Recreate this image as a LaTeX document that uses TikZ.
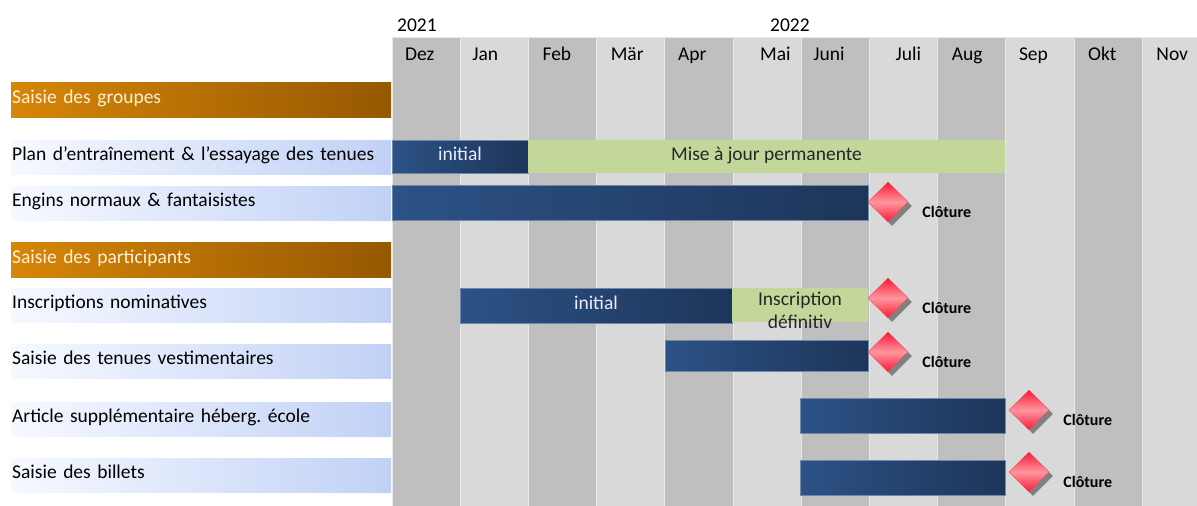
\documentclass[tikz,border=0pt]{standalone}
\usepackage{fontspec}
\setmainfont{Carlito}
\usepackage{tikz}
\usetikzlibrary{shapes.geometric, positioning, shadows}
\definecolor{monthdark}{RGB}{191,191,191}
\definecolor{monthlight}{RGB}{217,217,217}
\definecolor{monthline}{RGB}{230,230,230}
\definecolor{grouporangeL}{RGB}{214,134,8}
\definecolor{grouporangeR}{RGB}{150,88,0}
\definecolor{grouptext}{RGB}{255,240,215}
\definecolor{rowblueL}{RGB}{246,249,255}
\definecolor{rowblueR}{RGB}{193,209,246}
\definecolor{barblueL}{RGB}{44,82,134}
\definecolor{barblueR}{RGB}{29,53,89}
\definecolor{barborder}{RGB}{110,135,170}
\definecolor{updategreen}{RGB}{196,215,155}
\definecolor{closered}{RGB}{250,25,50}
\definecolor{closepink}{RGB}{255,150,160}
\definecolor{closeshadow}{RGB}{128,128,128}
\frenchspacing
\tikzset{
    groupbar/.style={rectangle, anchor=north west, minimum width=380pt, minimum height=35pt, inner xsep=1pt, inner ysep=0pt, text width=378pt, align=left, left color=grouporangeL, right color=grouporangeR, text=grouptext, font=\fontsize{19.5}{22}\selectfont, text height=13pt, text depth=6pt},
    rowbar/.style={groupbar, left color=rowblueL, right color=rowblueR, text=black, minimum height=34pt},
    taskbar/.style={rectangle, anchor=north west, inner sep=0pt, outer sep=0pt, left color=barblueL, right color=barblueR, draw=barborder, line width=0.6pt, text=white!92!blue, font=\fontsize{19.5}{22}\selectfont, text height=13pt, text depth=6pt},
    updatebar/.style={rectangle, anchor=north west, inner sep=0pt, outer sep=0pt, fill=updategreen, text=black!85, font=\fontsize{19.5}{22}\selectfont, text height=13pt, text depth=6pt},
    milestone/.style={diamond, minimum width=40pt, minimum height=40pt, inner sep=0pt, top color=closered, bottom color=closered, middle color=closepink, draw=closered!80!white, line width=0.4pt, drop shadow={shadow xshift=4pt, shadow yshift=-4pt, fill=closeshadow, opacity=1}},
}

\begin{document}
\begin{tikzpicture}[
    x=1pt, y=-1pt,
    month/.style={font=\fontsize{19.5}{22}\selectfont, inner sep=0pt, anchor=base west},
    bartext/.style={font=\fontsize{19.5}{23}\selectfont, inner sep=0pt, align=center, text=black!85},
    closelabel/.style={font=\bfseries\fontsize{16}{18}\selectfont, inner sep=0pt}
]
\useasboundingbox[fill=white] (0,0) rectangle (1197,506);

% month columns, dark and light in turn
\foreach \m/\dx [count=\i from 0] in {Dez/13,Jan/12,Feb/14,Mär/14,Apr/13,Mai/27,Juni/12,Juli/26,Aug/14,Sep/13,Okt/14,Nov/14} {
    \pgfmathsetmacro\xl{392+68.2*\i}
    \pgfmathtruncatemacro\odd{mod(\i,2)}
    \ifnum\odd=0 \def\colfill{monthdark}\else\def\colfill{monthlight}\fi
    \filldraw[fill=\colfill, draw=monthline, line width=1pt] (\xl,37) rectangle ++(68.2,470);
    \node[month] (m-\i) at (\xl+\dx,60) {\m};
}
\node[month] (y2021) at (397,31) {2021};
\node[month] (y2022) at (770,31) {2022};

\node[groupbar] (grp-head) at (11,82) {Saisie des groupes};
\node[rowbar] (grp-plan) at (11,140) {Plan d’entraînement \& l’essayage des tenues};
\node[rowbar] (grp-engins) at (11,186) {Engins normaux \& fantaisistes};
\node[groupbar] (part-head) at (11,242) {Saisie des participants};
\node[rowbar] (part-insc) at (11,288) {Inscriptions nominatives};
\node[rowbar] (part-tenues) at (11,344) {Saisie des tenues vestimentaires};
\node[rowbar] (part-article) at (11,402) {Article supplémentaire héberg. école};
\node[rowbar] (part-billets) at (11,458) {Saisie des billets};

\node[taskbar, minimum width=136pt, minimum height=33pt] (plan-init) at (392,140) {initial};
\node[updatebar, minimum width=477pt, minimum height=33pt, anchor=west, right=0pt of plan-init] (plan-maj) {Mise à jour permanente};
\node[taskbar, minimum width=476pt, minimum height=35pt] (engins-bar) at (392,185) {};
\node[taskbar, minimum width=272pt, minimum height=35pt] (insc-init) at (460,288) {initial};
\node[updatebar, minimum width=136pt, minimum height=34pt] (insc-def) at (732,288) {};
\node[bartext, anchor=north] (insc-def-txt) at ([yshift=-4pt]insc-def.north) {Inscription\\définitiv};
\node[taskbar, minimum width=203pt, minimum height=31pt] (tenues-bar) at (665,340) {};
\node[taskbar, minimum width=205pt, minimum height=35pt] (article-bar) at (800,398) {};
\node[taskbar, minimum width=205pt, minimum height=35pt] (billets-bar) at (800,460) {};

\node[milestone] (engins-end) at (888,202) {};
\node[milestone] (insc-end) at (888,298) {};
\node[milestone] (tenues-end) at (888,352) {};
\node[milestone] (article-end) at (1029,410) {};
\node[milestone] (billets-end) at (1029,472) {};
\node[closelabel, right=14pt of engins-end, yshift=-10pt] (engins-lbl) {Clôture};
\node[closelabel, right=14pt of insc-end, yshift=-10pt] (insc-lbl) {Clôture};
\node[closelabel, right=14pt of tenues-end, yshift=-10pt] (tenues-lbl) {Clôture};
\node[closelabel, right=14pt of article-end, yshift=-10pt] (article-lbl) {Clôture};
\node[closelabel, right=14pt of billets-end, yshift=-10pt] (billets-lbl) {Clôture};

\end{tikzpicture}
\end{document}
